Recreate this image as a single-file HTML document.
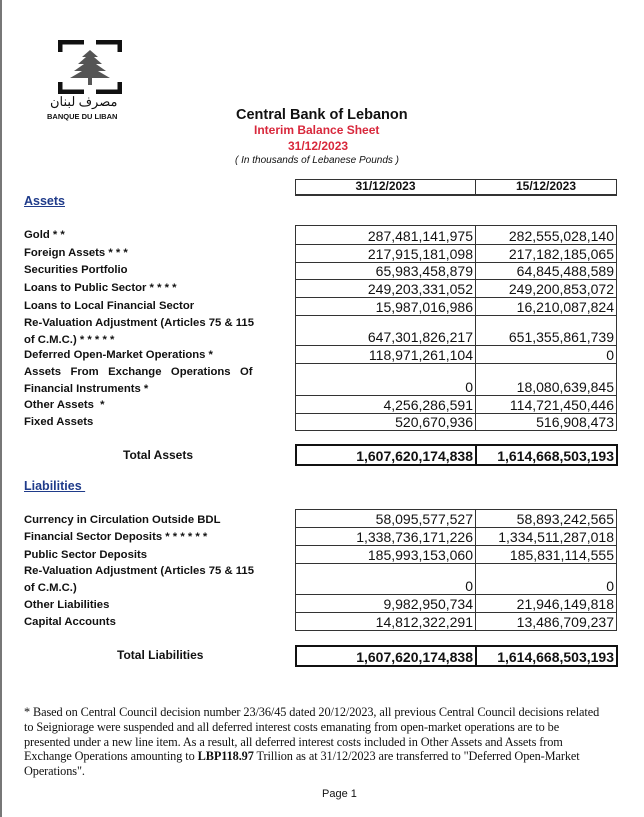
<!DOCTYPE html>
<html><head><meta charset="utf-8"><style>
body{margin:0;width:644px;height:817px;background:#fff;position:relative;overflow:hidden;font-family:"Liberation Sans",Arial,sans-serif;color:#111}
.a{position:absolute;white-space:nowrap}
.l{position:absolute;left:24px;font-weight:bold;font-size:11.3px;line-height:17px;white-space:nowrap}
.c{position:absolute;border:1px solid #333;box-sizing:border-box;font-size:14px;text-align:right;padding-right:2px;line-height:16px;display:flex;align-items:flex-end;justify-content:flex-end}
.b{font-weight:bold;border:2px solid #111}
</style></head><body>
<div class="a" style="left:0;top:0;width:2px;height:817px;background:#777"></div>
<svg class="a" style="left:58px;top:40px" width="64" height="54" viewBox="0 0 64 54">
<path d="M2 12V2H26M38 2H62V12M2 42V52H26M38 52H62V42" stroke="#111" stroke-width="5" fill="none"/>
<path d="M32 10L24 17H28L20 24H26L16 31H24L12 38H52L40 31H48L38 24H44L36 17H40Z" fill="#555"/>
<rect x="30" y="37" width="4" height="8" fill="#555"/>
</svg>
<div class="a" style="left:50px;top:94px;font-size:13px;font-family:'Liberation Serif',serif">مصرف لبنان</div>
<div class="a" style="left:47px;top:112px;font-size:7.5px;font-weight:bold">BANQUE DU LIBAN</div>
<div class="a" style="left:236px;top:107px;font-size:14.5px;font-weight:bold">Central Bank of Lebanon</div>
<div class="a" style="left:254px;top:123px;font-size:12px;font-weight:bold;color:#d8283c">Interim Balance Sheet</div>
<div class="a" style="left:288px;top:139px;font-size:12px;font-weight:bold;color:#d8283c">31/12/2023</div>
<div class="a" style="left:235px;top:155px;font-size:10px;font-style:italic">( In thousands of Lebanese Pounds )</div>
<div class="c" style="left:295px;top:179px;width:181px;height:17px;border-width:1px 1px 2px 1px;justify-content:center;font-size:12px;font-weight:bold;padding:0">31/12/2023</div>
<div class="c" style="left:475px;top:179px;width:142px;height:17px;border-width:1px 1px 2px 1px;justify-content:center;font-size:12px;font-weight:bold;padding:0">15/12/2023</div>
<div class="a" style="left:24px;top:194px;font-size:12.5px;font-weight:bold;color:#1f3b8a;text-decoration:underline">Assets</div>

<div class="l" style="top:227px">Gold * *</div>
<div class="l" style="top:245px">Foreign Assets * * *</div>
<div class="l" style="top:262px">Securities Portfolio</div>
<div class="l" style="top:280px">Loans to Public Sector * * * *</div>
<div class="l" style="top:298px">Loans to Local Financial Sector</div>
<div class="l" style="top:315px">Re-Valuation Adjustment (Articles 75 &amp; 115<br>of C.M.C.) * * * * *</div>
<div class="l" style="top:347px">Deferred Open-Market Operations *</div>
<div class="l" style="top:364px">Assets&nbsp;&nbsp; From&nbsp;&nbsp; Exchange&nbsp;&nbsp; Operations&nbsp;&nbsp; Of<br>Financial Instruments *</div>
<div class="l" style="top:397px">Other Assets&nbsp; *</div>
<div class="l" style="top:414px">Fixed Assets</div>
<div class="a" style="left:123px;top:448px;font-size:12px;font-weight:bold">Total Assets</div>

<div class="c" style="left:295px;top:225px;width:181px;height:20px">287,481,141,975</div><div class="c" style="left:475px;top:225px;width:142px;height:20px">282,555,028,140</div>
<div class="c" style="left:295px;top:244px;width:181px;height:19px">217,915,181,098</div><div class="c" style="left:475px;top:244px;width:142px;height:19px">217,182,185,065</div>
<div class="c" style="left:295px;top:262px;width:181px;height:18px">65,983,458,879</div><div class="c" style="left:475px;top:262px;width:142px;height:18px">64,845,488,589</div>
<div class="c" style="left:295px;top:279px;width:181px;height:19px">249,203,331,052</div><div class="c" style="left:475px;top:279px;width:142px;height:19px">249,200,853,072</div>
<div class="c" style="left:295px;top:297px;width:181px;height:19px">15,987,016,986</div><div class="c" style="left:475px;top:297px;width:142px;height:19px">16,210,087,824</div>
<div class="c" style="left:295px;top:315px;width:181px;height:31px">647,301,826,217</div><div class="c" style="left:475px;top:315px;width:142px;height:31px">651,355,861,739</div>
<div class="c" style="left:295px;top:345px;width:181px;height:19px">118,971,261,104</div><div class="c" style="left:475px;top:345px;width:142px;height:19px">0</div>
<div class="c" style="left:295px;top:363px;width:181px;height:33px">0</div><div class="c" style="left:475px;top:363px;width:142px;height:33px">18,080,639,845</div>
<div class="c" style="left:295px;top:395px;width:181px;height:19px">4,256,286,591</div><div class="c" style="left:475px;top:395px;width:142px;height:19px">114,721,450,446</div>
<div class="c" style="left:295px;top:413px;width:181px;height:18px">520,670,936</div><div class="c" style="left:475px;top:413px;width:142px;height:18px">516,908,473</div>
<div class="c b" style="left:295px;top:444px;width:182px;height:22px">1,607,620,174,838</div><div class="c b" style="left:475px;top:444px;width:143px;height:22px">1,614,668,503,193</div>

<div class="a" style="left:24px;top:479px;font-size:12.5px;font-weight:bold;color:#1f3b8a;text-decoration:underline">Liabilities&nbsp;</div>
<div class="l" style="top:512px">Currency in Circulation Outside BDL</div>
<div class="l" style="top:529px">Financial Sector Deposits * * * * * *</div>
<div class="l" style="top:547px">Public Sector Deposits</div>
<div class="l" style="top:563px">Re-Valuation Adjustment (Articles 75 &amp; 115<br>of C.M.C.)</div>
<div class="l" style="top:597px">Other Liabilities</div>
<div class="l" style="top:614px">Capital Accounts</div>
<div class="a" style="left:117px;top:648px;font-size:12px;font-weight:bold">Total Liabilities</div>

<div class="c" style="left:295px;top:509px;width:181px;height:19px">58,095,577,527</div><div class="c" style="left:475px;top:509px;width:142px;height:19px">58,893,242,565</div>
<div class="c" style="left:295px;top:527px;width:181px;height:19px">1,338,736,171,226</div><div class="c" style="left:475px;top:527px;width:142px;height:19px">1,334,511,287,018</div>
<div class="c" style="left:295px;top:545px;width:181px;height:19px">185,993,153,060</div><div class="c" style="left:475px;top:545px;width:142px;height:19px">185,831,114,555</div>
<div class="c" style="left:295px;top:563px;width:181px;height:32px">0</div><div class="c" style="left:475px;top:563px;width:142px;height:32px">0</div>
<div class="c" style="left:295px;top:594px;width:181px;height:19px">9,982,950,734</div><div class="c" style="left:475px;top:594px;width:142px;height:19px">21,946,149,818</div>
<div class="c" style="left:295px;top:612px;width:181px;height:19px">14,812,322,291</div><div class="c" style="left:475px;top:612px;width:142px;height:19px">13,486,709,237</div>
<div class="c b" style="left:295px;top:645px;width:182px;height:22px">1,607,620,174,838</div><div class="c b" style="left:475px;top:645px;width:143px;height:22px">1,614,668,503,193</div>

<div class="a" style="left:24px;top:705px;font-family:'Liberation Serif',serif;font-size:12.3px;line-height:14.8px;letter-spacing:-0.1px">* Based on Central Council decision number 23/36/45 dated 20/12/2023, all previous Central Council decisions related<br>to Seigniorage were suspended and all deferred interest costs emanating from open-market operations are to be<br>presented under a new line item. As a result, all deferred interest costs included in Other Assets and Assets from<br>Exchange Operations amounting to <b>LBP118.97</b> Trillion as at 31/12/2023 are transferred to "Deferred Open-Market<br>Operations".</div>
<div class="a" style="left:322px;top:788px;font-size:11px">Page 1</div>
</body></html>
